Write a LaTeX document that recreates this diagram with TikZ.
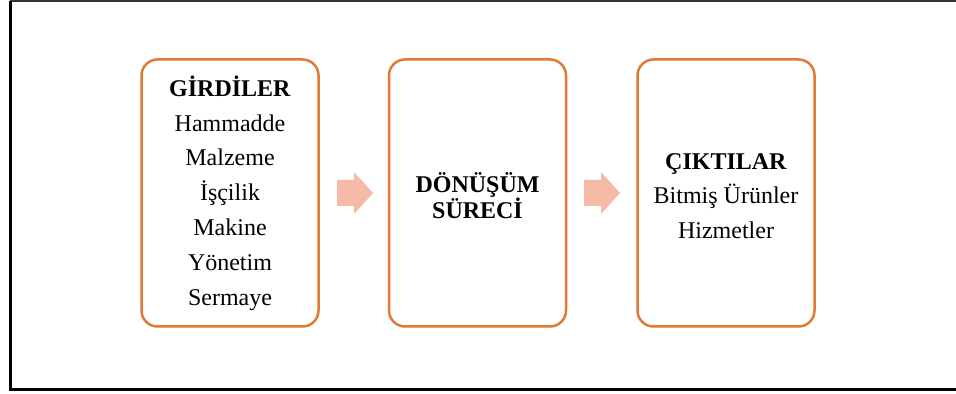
\documentclass[tikz,border=0pt]{standalone}
\usepackage{fontspec}
\setmainfont{Liberation Serif}
\definecolor{boxorange}{RGB}{226,122,52}
\definecolor{arrowpink}{RGB}{245,187,166}
\tikzset{
  procbox/.style={draw=boxorange, line width=1.25pt, rounded corners=8pt, minimum width=88.5pt, minimum height=133.5pt, inner sep=0pt, fill=white},
  btext/.style={align=center, font=\fontsize{12}{17.4}\selectfont},
  flowarrow/.style={fill=arrowpink, draw=none}
}
\begin{document}
\begin{tikzpicture}[x=0.5pt,y=-0.5pt]
\useasboundingbox (0,0) rectangle (956,394);
\fill[white] (0,0) rectangle (956,394);
% frame
\coordinate (ftl) at (10,1);
\coordinate (ftr) at (956,1);
\coordinate (fbl) at (10,389);
\coordinate (fbr) at (956,389);
\draw[line width=0.6pt, black!80] (ftl) -- (ftr);
\draw[line width=1.5pt, black] (ftl) -- (fbl) -- (fbr);
% boxes
\node[procbox] (in) at (230,193) {};
\node[procbox] (proc) at (477.5,193) {};
\node[procbox] (out) at (726,193) {};
\node[btext] (intext) at (230,193) {\textbf{GİRDİLER}\\Hammadde\\Malzeme\\İşçilik\\Makine\\Yönetim\\Sermaye};
\node[btext, font=\fontsize{12}{13}\selectfont] (proctext) at (477.5,196) {\textbf{DÖNÜŞÜM}\\\textbf{SÜRECİ}};
\node[btext] (outtext) at (726,196) {\textbf{ÇIKTILAR}\\Bitmiş Ürünler\\Hizmetler};
% arrows
\coordinate (a1) at (337,193);
\coordinate (a2) at (584,193);
\foreach \a in {a1,a2}{
  \fill[flowarrow] (\a) ++(0,-13) -- ++(17,0) -- ++(0,-8) -- ++(19,21) -- ++(-19,21) -- ++(0,-8) -- ++(-17,0) -- cycle;
}
\end{tikzpicture}
\end{document}
